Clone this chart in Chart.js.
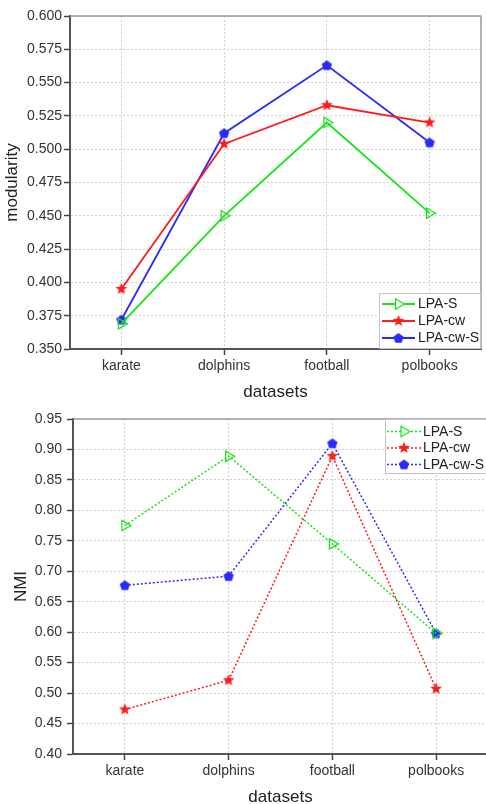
<!DOCTYPE html>
<html><head><meta charset="utf-8">
<script src="https://cdn.jsdelivr.net/npm/chart.js@4.4.1/dist/chart.umd.min.js"></script>
<style>
html,body{margin:0;padding:0;background:#fff;overflow:hidden;width:486px;height:804px;position:relative;}
#c1{position:absolute;left:0;top:0;}
#c2{position:absolute;left:0;top:400px;}
</style></head><body>
<canvas id="c1" width="486" height="404"></canvas>
<canvas id="c2" width="490" height="410"></canvas>
<script>
// ---------- data ----------
const categories = ['karate', 'dolphins', 'football', 'polbooks'];
const seriesNames = ['LPA-S', 'LPA-cw', 'LPA-cw-S'];

const modLPAS   = [0.369, 0.450, 0.520, 0.452];
const modLPAcw  = [0.395, 0.504, 0.533, 0.520];
const modLPAcwS = [0.372, 0.512, 0.563, 0.505];

const nmiLPAS   = [0.775, 0.889, 0.745, 0.598];
const nmiLPAcw  = [0.473, 0.521, 0.889, 0.507];
const nmiLPAcwS = [0.677, 0.692, 0.910, 0.598];

const modTicks = [0.350, 0.375, 0.400, 0.425, 0.450, 0.475, 0.500, 0.525, 0.550, 0.575, 0.600];
const modTickLabels = ['0.350','0.375','0.400','0.425','0.450','0.475','0.500','0.525','0.550','0.575','0.600'];
const nmiTicks = [0.40, 0.45, 0.50, 0.55, 0.60, 0.65, 0.70, 0.75, 0.80, 0.85, 0.90, 0.95];
const nmiTickLabels = ['0.40','0.45','0.50','0.55','0.60','0.65','0.70','0.75','0.80','0.85','0.90','0.95'];

// ---------- styles ----------
const GREEN = '#14e614', RED = '#ff1c1c', BLUE = '#2a2aff';
const FONT = 'Liberation Sans, Arial, Helvetica, sans-serif';

function makeStar(color) {
  const c = document.createElement('canvas'); c.width = c.height = 14;
  const x = c.getContext('2d'); x.fillStyle = color; x.beginPath();
  for (let i = 0; i < 10; i++) {
    const r = i % 2 ? 2.7 : 6.2;
    const a = -Math.PI / 2 + i * Math.PI / 5;
    x.lineTo(7 + r * Math.cos(a), 7 + r * Math.sin(a));
  }
  x.closePath(); x.fill(); return c;
}
function makePentagon(color) {
  const c = document.createElement('canvas'); c.width = c.height = 12;
  const x = c.getContext('2d'); x.fillStyle = color; x.beginPath();
  for (let i = 0; i < 5; i++) {
    const a = -Math.PI / 2 + i * 2 * Math.PI / 5;
    x.lineTo(6 + 5.4 * Math.cos(a), 6.3 + 5.4 * Math.sin(a));
  }
  x.closePath(); x.fill(); return c;
}
const starImg = makeStar(RED);
const pentImg = makePentagon(BLUE);

function drawMarker(ctx, ds, x, y) {
  const st = ds.pointStyle;
  if (st instanceof HTMLCanvasElement) {
    ctx.drawImage(st, x - st.width / 2, y - st.height / 2);
  } else if (st === 'triangle') {
    const r = ds.pointRadius;
    let rad = (ds.pointRotation || 0) * Math.PI / 180;
    ctx.beginPath();
    for (let k = 0; k < 3; k++) {
      const px = x + Math.sin(rad) * r, py = y - Math.cos(rad) * r;
      k ? ctx.lineTo(px, py) : ctx.moveTo(px, py);
      rad += 2 * Math.PI / 3;
    }
    ctx.closePath();
    ctx.setLineDash([]);
    ctx.fillStyle = '#fff'; ctx.fill();
    ctx.strokeStyle = ds.pointBorderColor; ctx.lineWidth = ds.pointBorderWidth; ctx.stroke();
  }
}

const boxLegend = {
  id: 'boxLegend',
  afterDraw(chart, args, o) {
    const { ctx, chartArea: ca } = chart;
    const x0 = ca.right - o.width + o.dx;
    const y0 = o.corner === 'br' ? ca.bottom - o.height : ca.top;
    ctx.save();
    ctx.fillStyle = '#fff';
    ctx.fillRect(x0, y0, o.width, o.height);
    ctx.strokeStyle = '#c4c4c4'; ctx.lineWidth = 1;
    ctx.strokeRect(x0 + 0.5, y0 + 0.5, o.width - 1, o.height - 1);
    chart.data.datasets.forEach((ds, i) => {
      const y = y0 + o.rowTop + i * o.rowGap;
      ctx.strokeStyle = ds.borderColor; ctx.lineWidth = ds.borderWidth;
      ctx.setLineDash(ds.borderDash || []);
      ctx.beginPath(); ctx.moveTo(x0 + o.lineX0, y); ctx.lineTo(x0 + o.lineX1, y); ctx.stroke();
      ctx.setLineDash([]);
      drawMarker(ctx, ds, x0 + (o.lineX0 + o.lineX1) / 2, y);
      ctx.fillStyle = '#222'; ctx.font = o.fontSize + 'px ' + FONT;
      ctx.textBaseline = 'middle'; ctx.textAlign = 'left';
      ctx.fillText(ds.label, x0 + o.textX, y + 0.5);
    });
    ctx.restore();
  }
};
const frame = {
  id: 'frame',
  beforeDatasetsDraw(chart) {
    const { ctx, chartArea: ca } = chart;
    ctx.save(); ctx.strokeStyle = '#9a9a9a'; ctx.lineWidth = 1.5;
    ctx.beginPath();
    ctx.moveTo(ca.left, ca.top); ctx.lineTo(ca.right, ca.top); ctx.lineTo(ca.right, ca.bottom);
    ctx.stroke(); ctx.restore();
  }
};

function makeDatasets(vals, dashed, width) {
  const dash = dashed ? [2, 2] : [];
  return [
    { label: seriesNames[0], data: vals[0], borderColor: GREEN, borderWidth: width, borderDash: dash,
      pointStyle: 'triangle', pointRotation: 90, pointRadius: 6, pointBorderColor: GREEN,
      pointBackgroundColor: 'rgba(255,255,255,0)', pointBorderWidth: 1.2 },
    { label: seriesNames[1], data: vals[1], borderColor: RED, borderWidth: width, borderDash: dash,
      pointStyle: starImg, pointRadius: 6 },
    { label: seriesNames[2], data: vals[2], borderColor: BLUE, borderWidth: width, borderDash: dash,
      pointStyle: pentImg, pointRadius: 6 }
  ];
}

function makeConfig(o) {
  const gridCommon = { color: '#d2d2d2', lineWidth: 1, tickColor: '#444', tickWidth: 1.5, tickLength: o.tickLen, offset: false };
  const borderCommon = { color: '#555', width: 2, dash: [2, 2] };
  return {
    type: 'line',
    data: { labels: categories, datasets: makeDatasets(o.vals, o.dashed, o.lineWidth) },
    options: {
      responsive: false, animation: false, devicePixelRatio: 1,
      layout: { padding: o.pad, autoPadding: false },
      elements: { line: { tension: 0, fill: false } },
      plugins: { legend: { display: false }, tooltip: { enabled: false }, boxLegend: o.legend },
      scales: {
        x: {
          type: 'category', offset: true,
          grid: gridCommon, border: borderCommon,
          ticks: { color: '#333', font: { family: FONT, size: 14 }, padding: 3, maxRotation: 0, autoSkip: false },
          title: { display: true, text: 'datasets', color: '#222', font: { family: FONT, size: 17 }, padding: { top: 0, bottom: o.xTitlePad } },
          afterFit: s => { s.height = o.xH; }
        },
        y: {
          min: o.ticks[0], max: o.ticks[o.ticks.length - 1],
          afterBuildTicks: s => { s.ticks = o.ticks.map(v => ({ value: v })); },
          grid: gridCommon, border: borderCommon,
          ticks: { color: '#333', font: { family: FONT, size: 14 }, padding: o.yTickPad, callback: (v, i) => o.labels[i] },
          title: { display: true, text: o.yTitle, color: '#222', font: { family: FONT, size: 17 }, padding: { top: o.yTitlePad, bottom: 0 } },
          afterFit: s => { s.width = o.yW; }
        }
      }
    },
    plugins: [frame, boxLegend]
  };
}

new Chart(document.getElementById('c1'), makeConfig({
  vals: [modLPAS, modLPAcw, modLPAcwS], dashed: false, lineWidth: 1.8,
  ticks: modTicks, labels: modTickLabels, yTitle: 'modularity',
  pad: { left: 0, top: 16, right: 5, bottom: 0 }, xH: 55, yW: 70,
  tickLen: 6, yTickPad: 2, yTitlePad: 2, xTitlePad: 1,
  legend: { corner: 'br', width: 102, height: 56, dx: 0, rowTop: 11, rowGap: 17, lineX0: 3, lineX1: 36, textX: 39, fontSize: 14 }
}));

new Chart(document.getElementById('c2'), makeConfig({
  vals: [nmiLPAS, nmiLPAcw, nmiLPAcwS], dashed: true, lineWidth: 1.5,
  ticks: nmiTicks, labels: nmiTickLabels, yTitle: 'NMI',
  pad: { left: 0, top: 19, right: 2, bottom: 0 }, xH: 56, yW: 73,
  tickLen: 6, yTickPad: 5, yTitlePad: 11, xTitlePad: 2,
  legend: { corner: 'tr', width: 103, height: 55, dx: 0, rowTop: 12.5, rowGap: 16.5, lineX0: 2, lineX1: 36, textX: 38, fontSize: 14 }
}));
</script>
</body></html>
